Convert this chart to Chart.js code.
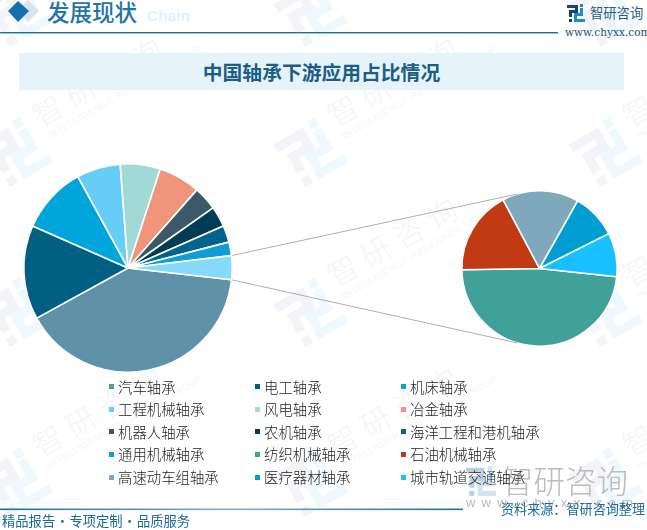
<!DOCTYPE html>
<html><head><meta charset="utf-8">
<script src="https://cdn.jsdelivr.net/npm/chart.js@4"></script>
<style>
html,body{margin:0;padding:0;background:#fff;width:647px;height:530px;overflow:hidden;font-family:"Noto Sans CJK SC","Noto Sans",sans-serif}
#page{position:relative;width:647px;height:530px;overflow:hidden}
.abs{position:absolute;white-space:nowrap}
canvas{position:absolute;left:0;top:0}
.wm{position:absolute;width:0;height:0;transform:rotate(-30deg);transform-origin:0 0}
.wm svg{position:absolute;left:-28px;top:-28px}
.wm .t{position:absolute;left:34px;top:-41px;font-size:30px;letter-spacing:8px;color:#f4f5f7;white-space:nowrap;line-height:40px;font-weight:300}
.wm .s{position:absolute;left:36px;top:-3px;font:9.5px "Liberation Sans",sans-serif;letter-spacing:.6px;color:#f5f6f8;white-space:nowrap}
#legend{position:absolute;left:0;top:0;z-index:5}
.lg{position:absolute;font-size:14.4px;line-height:20px;color:#222;white-space:nowrap;font-weight:300}
.mk{position:absolute;width:5px;height:5px}
</style></head><body><div id="page">
<div id="wms"></div>
<svg class="abs" style="left:0;top:0" width="647" height="40">
<polygon points="28,0 39,11 28,22 17,11" fill="#d6e6f0"/>
<polygon points="18,1 29,11 18,22 8,11" fill="#1571ab"/>
<rect x="0" y="32" width="558" height="1.4" fill="#1a6fa0"/>
</svg>
<div class="abs" style="left:147px;top:6px;font:bold 15.5px 'Liberation Sans',sans-serif;color:#e3f1fb;line-height:20px">Chain</div>
<div class="abs" style="left:47px;top:-5px;font-size:22.5px;font-weight:500;color:#1f75a8;line-height:32px">发展现状</div>
<svg class="abs" style="left:567px;top:4px" width="18" height="18" viewBox="0 0 36 36">
<path d="M0 2H22V18H10V26H4V12H16V8H0Z" fill="#1d3f7a"/><rect x="4" y="30" width="6" height="6" fill="#1d3f7a"/>
<path d="M26 8H32V24H20V30H36V36H14V18H26Z" fill="#1a8fc4"/><rect x="26" y="0" width="6" height="6" fill="#1a8fc4"/></svg>
<div class="abs" style="left:590px;top:3px;font-size:13.3px;color:#1d5f8c;line-height:19px">智研咨询</div>
<div class="abs" style="left:565px;top:25px;font:10.5px 'DejaVu Serif',serif;color:#1d4f78;line-height:14px;letter-spacing:.05px">www.chyxx.com</div>
<div class="abs" style="left:19px;top:53px;width:605px;height:37px;background:#e6f3fb"></div>
<div class="abs" style="left:19px;top:53px;width:605px;height:37px;line-height:38px;text-align:center;font-size:19.8px;font-weight:700;color:#1b5e84">中国轴承下游应用占比情况</div>
<canvas id="c2" width="647" height="530"></canvas>
<canvas id="c1" width="647" height="530"></canvas>
<div id="legend"></div>
<svg class="abs" style="left:466px;top:466px" width="30" height="30" viewBox="0 0 36 36">
<path d="M0 2H22V18H10V26H4V12H16V8H0Z" fill="#bcd0e6"/><rect x="4" y="30" width="6" height="6" fill="#bcd0e6"/>
<path d="M26 8H32V24H20V30H36V36H14V18H26Z" fill="#cfe5f3"/><rect x="26" y="0" width="6" height="6" fill="#cfe5f3"/></svg>
<div class="abs" style="left:502px;top:456px;font-size:31.5px;color:#bcbcbc;line-height:46px;font-weight:300">智研咨询</div>
<div class="abs" style="left:466px;top:495px;font:13px 'Liberation Sans',sans-serif;letter-spacing:6.2px;color:#b9b9b9;line-height:16px">www.chyxx.com</div>
<svg class="abs" style="left:0;top:0;pointer-events:none" width="647" height="530">
<defs><linearGradient id="g"><stop offset="0" stop-color="#1a6fa0"/><stop offset=".5" stop-color="#7fb0cc"/><stop offset="1" stop-color="#1a6fa0"/></linearGradient></defs>
<rect x="0" y="508.5" width="463" height="1.6" fill="url(#g)"/></svg>
<div class="abs" style="left:2px;top:511px;font-size:13.3px;color:#1a6a9a;line-height:20px;word-spacing:-2.5px">精品报告 · 专项定制 · 品质服务</div>
<div class="abs" style="left:501px;top:499px;font-size:13.1px;color:#1a6a9a;line-height:20px">资料来源：智研咨询整理</div>
</div>
<script>
// Left pie
const mainLabels = ["汽车轴承","电工轴承","机床轴承","工程机械轴承","风电轴承","冶金轴承","机器人轴承","农机轴承","海洋工程和港机轴承","通用机械轴承","其他"];
const mainValues = [40.2,14.6,10.4,6.8,6.2,6.5,3.7,3.2,2.6,2.1,3.7];
const mainColors = ["#5F92A9","#005F83","#00A5DC","#66CDF6","#A0D9D5","#F0957B","#3A5A68","#003C54","#00648C","#0E9DD6","#85D9F9"];
// Right pie (breakdown of 其他)
const subLabels = ["纺织机械轴承","石油机械轴承","高速动车组轴承","医疗器材轴承","城市轨道交通轴承"];
const subValues = [48.0,17.5,15.9,9.4,9.1];
const subColors = ["#41A09A","#C03A14","#7FA8BD","#009DD3","#19C0FF"];

const legendCols = [109,255,401];
const legendRows = [386.5,409,431.5,454,477];

// watermarks
const wmXs=[15,310,605], wmYs=[12,152,312,482];
const wmHost=document.getElementById('wms');
wmYs.forEach(y=>wmXs.forEach(x=>{
  const d=document.createElement('div');d.className='wm';d.style.left=x+'px';d.style.top=y+'px';
  d.innerHTML='<svg width="56" height="56" viewBox="0 0 36 36"><path d="M0 2H22V18H10V26H4V12H16V8H0Z" fill="#f2f4f9"/><rect x="4" y="30" width="6" height="6" fill="#f2f4f9"/><path d="M26 8H32V24H20V30H36V36H14V18H26Z" fill="#eff8fc"/><rect x="26" y="0" width="6" height="6" fill="#eff8fc"/></svg><div class="t">智研咨询</div><div class="s">INTELLIGENCE RESEARCH GROUP</div>';
  wmHost.appendChild(d);
}));

// legend
const lgLabels=mainLabels.slice(0,10).concat(subLabels), lgColors=mainColors.slice(0,10).concat(subColors);
const lgHost=document.getElementById('legend');
lgLabels.forEach((t,i)=>{
  const x=legendCols[i%3], y=legendRows[Math.floor(i/3)];
  const m=document.createElement('div');m.className='mk';m.style.cssText=`left:${x}px;top:${y-2.5}px;background:${lgColors[i]}`;
  const l=document.createElement('div');l.className='lg';l.style.left=(x+9)+'px';l.style.top=(y-10)+'px';l.textContent=t;
  lgHost.appendChild(m);lgHost.appendChild(l);
});

Chart.defaults.animation=false;
Chart.defaults.responsive=false;
Chart.defaults.devicePixelRatio=1;
const plain={legend:{display:false},tooltip:{enabled:false}};

const chart2=new Chart(document.getElementById('c2'),{type:'pie',
 data:{labels:subLabels,datasets:[{data:subValues,backgroundColor:subColors,borderColor:'#fff',borderWidth:1.6}]},
 options:{rotation:96.1,plugins:plain,layout:{padding:{left:461,top:190,right:647-618,bottom:530-347}}}});

const connector={id:'connector',beforeDatasetsDraw(chart){
  const a=chart.getDatasetMeta(0).data[mainValues.length-1], b=chart2.getDatasetMeta(0).data[0];
  const pt=(el,r,ang)=>[el.x+r*Math.cos(ang),el.y+r*Math.sin(ang)];
  const g=chart.ctx;g.save();g.strokeStyle='#aeaeae';g.lineWidth=1;
  [[a.startAngle,-Math.PI/2-0.29],[a.endAngle,Math.PI/2+0.29]].forEach(([s,e])=>{
    const p=pt(a,a.outerRadius,s), q=pt(b,b.outerRadius,e);
    g.beginPath();g.moveTo(p[0],p[1]);g.lineTo(q[0],q[1]);g.stroke();
  });
  g.restore();
}};

new Chart(document.getElementById('c1'),{type:'pie',
 data:{labels:mainLabels,datasets:[{data:mainValues,backgroundColor:mainColors,borderColor:'#fff',borderWidth:1.6}]},
 options:{rotation:96.5,plugins:plain,layout:{padding:{left:23,top:163,right:647-233,bottom:530-373}}},
 plugins:[connector]});
</script>
</body></html>
